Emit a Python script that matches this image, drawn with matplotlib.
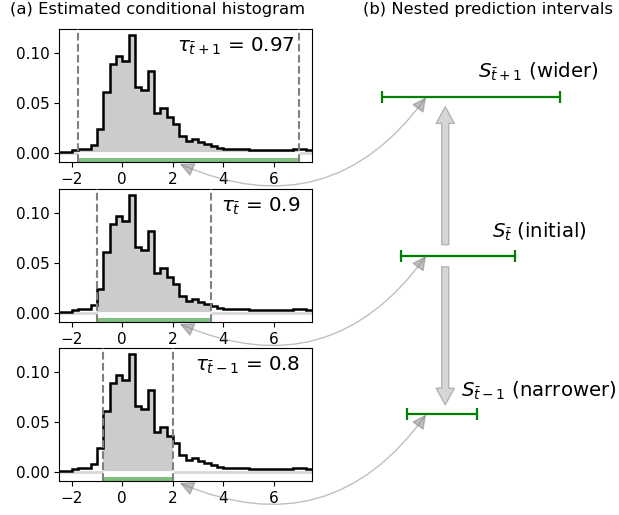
import numpy as np
import matplotlib
matplotlib.use("Agg")
import matplotlib.pyplot as plt
from matplotlib.patches import ConnectionPatch

# histogram (same estimate in all three panels)
bin_edges = np.linspace(-2.5, 7.5, 41)
density = np.array([
    0.0003, 0.0003, 0.0028, 0.0035, 0.0038, 0.0075, 0.024, 0.061,
    0.089, 0.097, 0.092, 0.118, 0.066, 0.063, 0.082, 0.040,
    0.045, 0.036, 0.029, 0.017, 0.012, 0.0135, 0.011, 0.0088,
    0.0065, 0.005, 0.0042, 0.004, 0.0037, 0.0035, 0.003, 0.0028,
    0.0027, 0.0027, 0.0028, 0.003, 0.0032, 0.0035, 0.0035, 0.003])

tau_labels = [r'$\tau_{\bar{t}+1}$ = 0.97', r'$\tau_{\bar{t}}$ = 0.9',
              r'$\tau_{\bar{t}-1}$ = 0.8']
lower = [-1.75, -1.0, -0.75]
upper = [7.0, 3.5, 2.0]

# intervals drawn in panel (b)
int_lower = [-1.75, -1.0, -0.75]
int_upper = [5.25, 3.5, 2.0]
levels = [3, 2, 1]
int_labels = [r'$S_{\bar{t}+1}$ (wider)', r'$S_{\bar{t}}$ (initial)',
              r'$S_{\bar{t}-1}$ (narrower)']

W, H = 619, 515
fig = plt.figure(figsize=(W / 100, H / 100), dpi=100)

ylo, yhi = -0.0093, 0.1237
tops = [29, 189, 348]
text_x = [0.933, 0.953, 0.953]
axs = []
for i in range(3):
    ax = fig.add_axes([59 / W, 1 - (tops[i] + 133) / H, 253 / W, 133 / H])
    lo, hi = lower[i], upper[i]
    ax.axhline(0, color='0.85', lw=2, zorder=1)
    xs = np.clip(bin_edges, lo, hi)
    ys = np.r_[density, density[-1]]
    ax.fill_between(xs, ys, step='post', color='0.8', lw=0, zorder=2)
    ax.hlines(0, lo, hi, color='white', lw=2, zorder=2.5)
    ax.stairs(density, bin_edges, baseline=None, color='black', lw=1.8, zorder=3)
    ax.fill_between([lo, hi], ylo, -0.0048, color='green', alpha=0.5, lw=0, zorder=2)
    ax.axvline(lo, ls='--', color='gray', lw=1.5, zorder=4)
    ax.axvline(hi, ls='--', color='gray', lw=1.5, zorder=4)
    ax.text(text_x[i], 0.87, tau_labels[i], transform=ax.transAxes,
            ha='right', va='center', fontsize=14.3)
    ax.set_xlim(-2.5, 7.5)
    ax.set_ylim(ylo, yhi)
    ax.set_xticks([-2, 0, 2, 4, 6])
    ax.set_yticks([0, 0.05, 0.10])
    ax.set_yticklabels(['0.00', '0.05', '0.10'])
    ax.tick_params(labelsize=11)
    axs.append(ax)

# panel (b)
axr = fig.add_axes([320 / W, 1 - 481 / H, 299 / W, 452 / H])
axr.set_xlim(-4.18, 7.59)
axr.set_ylim(0.58, 3.43)
axr.axis('off')

centers = [(a + b) / 2 for a, b in zip(int_lower, int_upper)]
halfw = [(b - a) / 2 for a, b in zip(int_lower, int_upper)]
axr.errorbar(centers, levels, xerr=halfw, fmt='none', ecolor='green',
             elinewidth=1.6, capsize=4, capthick=1.6)

label_pos = [(2.04, 3.16), (2.58, 2.15), (1.37, 1.15)]
for (tx, ty), lab in zip(label_pos, int_labels):
    axr.text(tx, ty, lab, ha='left', va='center', fontsize=14.2)

big = dict(facecolor='0.84', edgecolor='0.7', width=5, headwidth=13,
           headlength=12, shrink=0, lw=1)
axr.annotate('', xy=(0.75, levels[0] - 0.06), xytext=(0.75, levels[1] + 0.07),
             arrowprops=big)
axr.annotate('', xy=(0.75, levels[2] + 0.06), xytext=(0.75, levels[1] - 0.07),
             arrowprops=big)

for i in range(3):
    con = ConnectionPatch(xyA=(2.27, ylo - 0.002), coordsA=axs[i].transData,
                          xyB=(0, levels[i]), coordsB=axr.transData,
                          arrowstyle='<|-|>', connectionstyle='arc3,rad=0.4',
                          color='gray', alpha=0.5, lw=1, mutation_scale=22)
    fig.add_artist(con)

fig.text(10 / W, 1 - 14 / H, '(a) Estimated conditional histogram',
         fontsize=11.8, va='baseline')
fig.text(363 / W, 1 - 14 / H, '(b) Nested prediction intervals',
         fontsize=11.8, va='baseline')

fig.savefig('out.png', dpi=100)
